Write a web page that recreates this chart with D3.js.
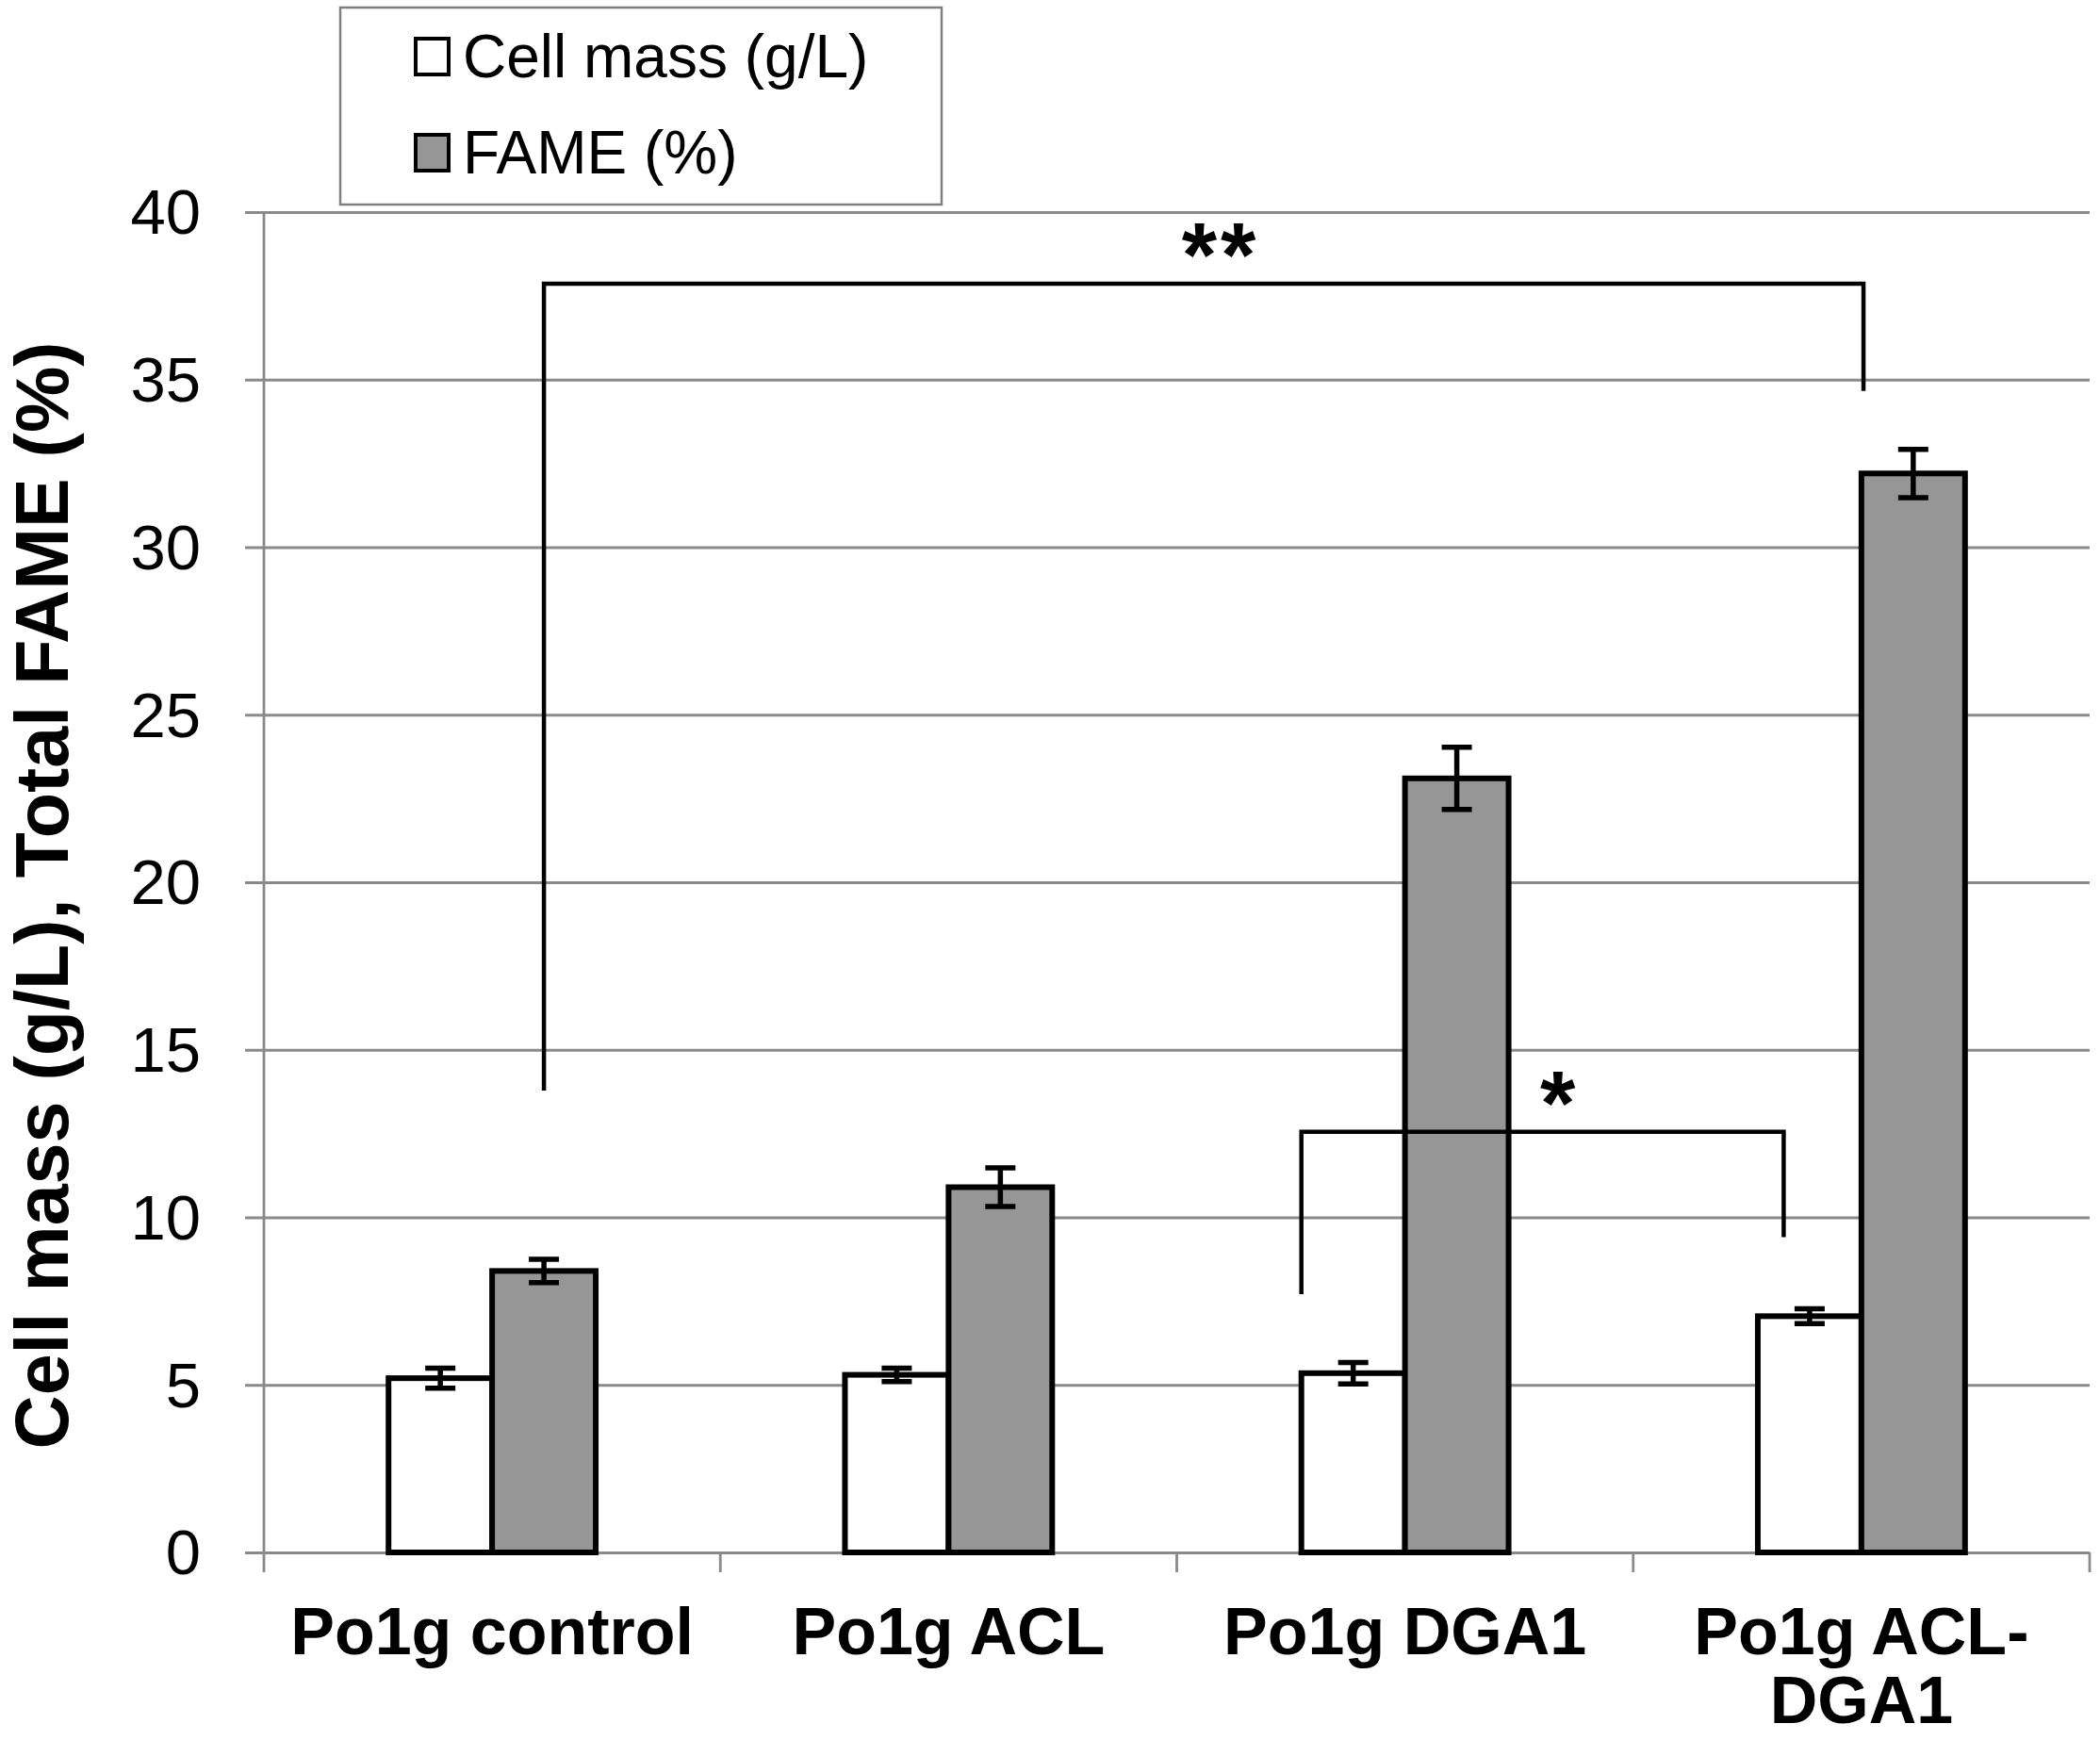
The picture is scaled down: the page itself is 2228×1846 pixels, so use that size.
<!DOCTYPE html>
<html><head><meta charset="utf-8">
<script src="https://cdn.jsdelivr.net/npm/d3@7"></script>
<style>
html,body{margin:0;padding:0;background:#fff;}
text{font-family:"Liberation Sans",Arial,sans-serif;}
</style></head>
<body>
<svg id="chart" width="2228" height="1846"></svg>
<script>
// ---- data ----
const categories = ["Po1g control", "Po1g ACL", "Po1g DGA1", "Po1g ACL-DGA1"];
const categoryLines = [["Po1g control"], ["Po1g ACL"], ["Po1g DGA1"], ["Po1g ACL-", "DGA1"]];
const seriesNames = ["Cell mass (g/L)", "FAME (%)"];
const cellMass = [5.2, 5.3, 5.35, 7.05];
const cellMassErr = [0.3, 0.2, 0.32, 0.22];
const fame = [8.4, 10.9, 23.1, 32.2];
const fameErr = [0.35, 0.58, 0.93, 0.72];
const yTicks = [0, 5, 10, 15, 20, 25, 30, 35, 40];
const yTitle = "Cell mass (g/L), Total FAME (%)";
// significance brackets: category index + offset in bar widths from category centre
const brackets = [
  {label: "**", c1: 0, o1: 0.5, c2: 3, o2: 0.02, top: 37.86, end1: 13.78, end2: 34.66},
  {label: "*",  c1: 2, o1: -1.0, c2: 3, o2: -0.75, top: 12.55, end1: 7.71, end2: 9.41}
];

// ---- layout ----
const svg = d3.select("#chart");
const W = 2228, H = 1846;
svg.append("rect").attr("width", W).attr("height", H).attr("fill", "#fff");

const x = d3.scaleBand().domain(categories).range([280, 2217]).padding(0);
const y = d3.scaleLinear().domain([0, 40]).range([1647, 225]);
const bw = x.bandwidth() * 0.227;
const gridColor = "#8a8a8a";
const fillColors = ["#ffffff", "#969696"];

// gridlines (with left tick extension)
const yAxis = d3.axisLeft(y).tickValues(yTicks).tickSize(-(2217 - 280)).tickSizeOuter(0).tickFormat(d3.format("d")).tickPadding(0);
const gy = svg.append("g").attr("transform", "translate(280,0)").call(yAxis);
gy.select(".domain").remove();
gy.selectAll(".tick line").attr("stroke", gridColor).attr("stroke-width", 2.8).attr("x1", -20);
gy.selectAll(".tick text").attr("x", -67).attr("dy", "0.34em").attr("font-size", 67).attr("fill", "#000").attr("text-anchor", "end");

// y axis line
svg.append("line").attr("x1", 280).attr("x2", 280).attr("y1", y(40)).attr("y2", y(0) + 21)
  .attr("stroke", gridColor).attr("stroke-width", 2.8);

// category boundary ticks below axis
const bounds = categories.map(c => x(c)).concat([x(categories[categories.length - 1]) + x.bandwidth()]);
svg.append("g").selectAll("line").data(bounds.slice(1)).join("line")
  .attr("x1", d => d).attr("x2", d => d).attr("y1", y(0)).attr("y2", y(0) + 21)
  .attr("stroke", gridColor).attr("stroke-width", 2.8);

// bars
const cx = i => x(categories[i]) + x.bandwidth() / 2;
const series = [
  {vals: cellMass, errs: cellMassErr, off: -1},
  {vals: fame, errs: fameErr, off: 0}
];
series.forEach((s, si) => {
  const g = svg.append("g");
  g.selectAll("rect").data(s.vals).join("rect")
    .attr("x", (d, i) => cx(i) + s.off * bw)
    .attr("y", d => y(d))
    .attr("width", bw)
    .attr("height", d => y(0) - y(d))
    .attr("fill", fillColors[si])
    .attr("stroke", "#000").attr("stroke-width", 6);
  // error bars
  const eg = svg.append("g").attr("stroke", "#000").attr("stroke-width", 5.5);
  s.vals.forEach((v, i) => {
    const ex = cx(i) + s.off * bw + bw / 2;
    const e = s.errs[i];
    eg.append("line").attr("x1", ex).attr("x2", ex).attr("y1", y(v + e)).attr("y2", y(v - e));
    eg.append("line").attr("x1", ex - 16).attr("x2", ex + 16).attr("y1", y(v + e)).attr("y2", y(v + e));
    eg.append("line").attr("x1", ex - 16).attr("x2", ex + 16).attr("y1", y(v - e)).attr("y2", y(v - e));
  });
});

// significance brackets
brackets.forEach(b => {
  const x1 = cx(b.c1) + b.o1 * bw, x2 = cx(b.c2) + b.o2 * bw;
  svg.append("path")
    .attr("d", `M${x1},${y(b.end1)}V${y(b.top)}H${x2}V${y(b.end2)}`)
    .attr("fill", "none").attr("stroke", "#000").attr("stroke-width", 4.5);
  svg.append("text").attr("x", (x1 + x2) / 2 + 18).attr("y", y(b.top) + 2)
    .attr("text-anchor", "middle").attr("font-size", 96).attr("font-weight", "bold")
    .attr("letter-spacing", 4)
    .text(b.label);
});

// x labels
const xl = svg.append("g");
categoryLines.forEach((lines, i) => {
  lines.forEach((t, li) => {
    xl.append("text").attr("x", cx(i)).attr("y", 1755 + li * 73)
      .attr("text-anchor", "middle").attr("font-size", 70).attr("font-weight", "bold")
      .text(t);
  });
});

// y title
svg.append("text").attr("transform", "translate(72,950) rotate(-90)")
  .attr("text-anchor", "middle").attr("font-size", 79).attr("font-weight", "bold")
  .text(yTitle);

// legend
const lg = svg.append("g");
lg.append("rect").attr("x", 361).attr("y", 8).attr("width", 638).attr("height", 209)
  .attr("fill", "#fff").attr("stroke", "#808080").attr("stroke-width", 2.5);
seriesNames.forEach((n, i) => {
  const yy = 41 + i * 102;
  lg.append("rect").attr("x", 441).attr("y", yy).attr("width", 35).attr("height", 38)
    .attr("fill", fillColors[i]).attr("stroke", "#000").attr("stroke-width", 4);
  lg.append("text").attr("x", 491).attr("y", yy + 41).attr("font-size", 64).text(n);
});
</script>
</body></html>
